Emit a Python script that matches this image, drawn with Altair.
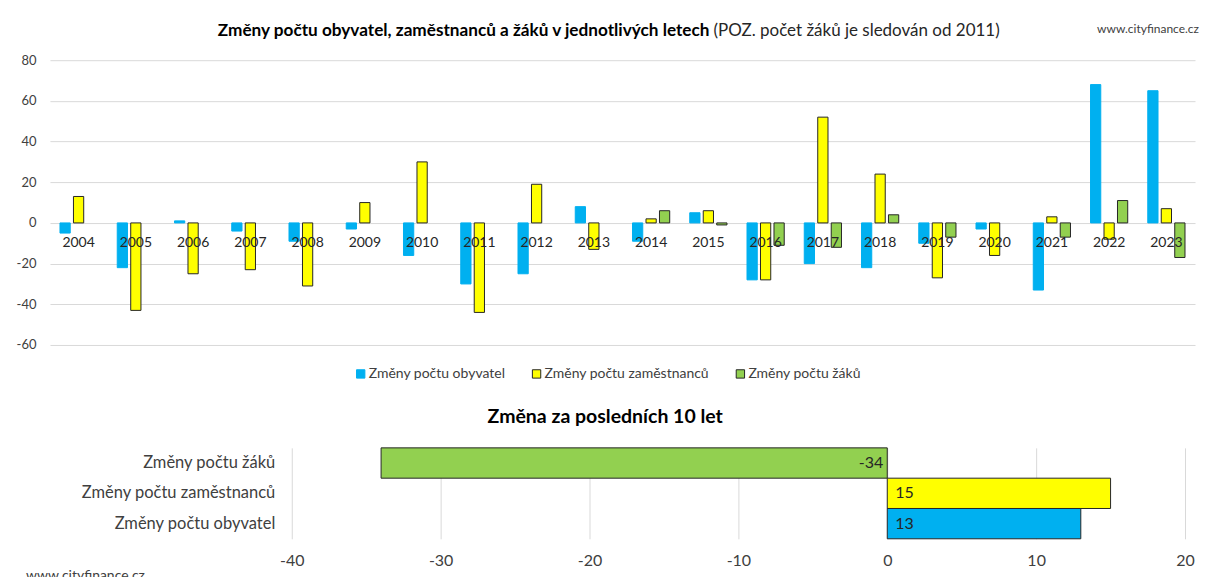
import altair as alt
import pandas as pd

FONT = "Lato"

# ---------------- data ----------------
years = [str(y) for y in range(2004, 2024)]
obyvatel = [-5, -22, 1, -4, -9, -3, -16, -30, -25, 8, -9, 5, -28, -20, -22, -10, -3, -33, 68, 65]
zamestnancu = [13, -43, -25, -23, -31, 10, 30, -44, 19, -13, 2, 6, -28, 52, 24, -27, -16, 3, -8, 7]
zaku = [None, None, None, None, None, None, None, 0, 0, 0, 6, -1, -11, -12, 4, -7, 0, -7, 11, -17]

series = ["Změny počtu obyvatel", "Změny počtu zaměstnanců", "Změny počtu žáků"]
series_fill = ["#00B0F0", "#FFFF00", "#92D050"]
series_stroke = ["#00B0F0", "#262626", "#262626"]

y_ticks = [-60, -40, -20, 0, 20, 40, 60, 80]

ten_year_labels = ["Změny počtu žáků", "Změny počtu zaměstnanců", "Změny počtu obyvatel"]
ten_year_values = [-34, 15, 13]
ten_year_fill = ["#92D050", "#FFFF00", "#00B0F0"]
x_ticks = [-40, -30, -20, -10, 0, 10, 20]

title_bold = "Změny počtu obyvatel, zaměstnanců a žáků v jednotlivých letech"
title_note = "(POZ. počet žáků je sledován od 2011)"
source = "www.cityfinance.cz"
title_bottom = "Změna za posledních 10 let"

rows = []
for i, yr in enumerate(years):
    for s, vals in zip(series, [obyvatel, zamestnancu, zaku]):
        rows.append({"year": yr, "series": s, "value": vals[i]})
df = pd.DataFrame(rows)
df10 = pd.DataFrame({"label": ten_year_labels, "value": ten_year_values})

# ---------------- top chart ----------------
W_TOP, H_TOP = 1146, 285

legend = alt.Legend(title=None, orient="none", legendX=304, legendY=307,
                    direction="horizontal", symbolType="square", symbolSize=70,
                    symbolStrokeWidth=1, labelFontSize=14, labelColor="#404040",
                    labelLimit=400, columnPadding=24, labelOffset=1, padding=0)

bars = alt.Chart(df).transform_filter(
    "isValid(datum.value) && datum.value != 0"
).mark_bar(strokeWidth=1).encode(
    x=alt.X("year:N", sort=years, axis=None,
            scale=alt.Scale(domain=years, paddingInner=0.35, paddingOuter=0.175)),
    xOffset=alt.XOffset("series:N",
                        scale=alt.Scale(domain=series, paddingInner=0.24, paddingOuter=0)),
    y=alt.Y("value:Q", title=None,
            scale=alt.Scale(domain=[-60, 80], nice=False, zero=False),
            axis=alt.Axis(values=y_ticks, grid=True, gridColor="#d9d9d9", gridWidth=1,
                          domain=False, ticks=False, tickSize=0, labelPadding=14,
                          labelFontSize=13, labelColor="#404040", labelFlush=False,
                          minExtent=42, maxExtent=42)),
    fill=alt.Fill("series:N", scale=alt.Scale(domain=series, range=series_fill), legend=legend),
    stroke=alt.Stroke("series:N", scale=alt.Scale(domain=series, range=series_stroke), legend=legend),
)

year_text = alt.Chart(pd.DataFrame({"year": years})).mark_text(
    dy=20, fontSize=14, color="#262626", baseline="middle"
).encode(
    x=alt.X("year:N", sort=years, axis=None),
    y=alt.datum(0),
    text="year:N",
)

head_bold = alt.Chart(pd.DataFrame({"t": [title_bold]})).mark_text(
    align="left", baseline="middle", fontSize=17.2, fontWeight="bold", color="#000000"
).encode(x=alt.value(168), y=alt.value(-29), text="t:N")

note = alt.Chart(pd.DataFrame({"t": [title_note]})).mark_text(
    align="left", baseline="middle", fontSize=17, color="#262626"
).encode(x=alt.value(664), y=alt.value(-29), text="t:N")

src_top = alt.Chart(pd.DataFrame({"t": [source]})).mark_text(
    align="left", baseline="middle", fontSize=12, color="#404040"
).encode(x=alt.value(1048), y=alt.value(-31), text="t:N")

top = alt.layer(bars, year_text, head_bold, note, src_top).properties(
    width=W_TOP, height=H_TOP,
)

# ---------------- bottom chart ----------------
W_B, H_B = 894, 91

ybot = alt.Y("label:N", sort=ten_year_labels, title=None,
             scale=alt.Scale(domain=ten_year_labels, paddingInner=0, paddingOuter=0),
             axis=alt.Axis(domain=False, ticks=False, tickSize=0, labelPadding=17,
                           labelFontSize=16.5, labelColor="#404040", labelLimit=400,
                           minExtent=225, maxExtent=225, grid=False))
xbot = alt.X("value:Q", title=None,
             scale=alt.Scale(domain=[-40, 20], nice=False),
             axis=alt.Axis(values=x_ticks, grid=True, gridColor="#d9d9d9", domain=False,
                           ticks=False, tickSize=0, labelPadding=14, labelFontSize=16,
                           labelColor="#404040", labelFlush=False))

bbars = alt.Chart(df10).mark_bar(stroke="#262626", strokeWidth=1).encode(
    y=ybot, x=xbot,
    fill=alt.Fill("label:N", scale=alt.Scale(domain=ten_year_labels, range=ten_year_fill), legend=None),
)
neg_lbl = alt.Chart(df10).transform_filter("datum.value < 0").mark_text(
    align="right", dx=-4, fontSize=16, color="#262626", baseline="middle"
).encode(y=alt.Y("label:N", sort=ten_year_labels), x=alt.datum(0), text="value:Q")
pos_lbl = alt.Chart(df10).transform_filter("datum.value >= 0").mark_text(
    align="left", dx=8, fontSize=16, color="#262626", baseline="middle"
).encode(y=alt.Y("label:N", sort=ten_year_labels), x=alt.datum(0), text="value:Q")

bottom = alt.layer(bbars, neg_lbl, pos_lbl).properties(
    width=W_B, height=H_B,
    title=alt.TitleParams(title_bottom, anchor="start", frame="group", dx=196,
                          fontSize=19.5, fontWeight="bold", offset=20, color="#000000"),
)

spacer = alt.Chart(pd.DataFrame({"a": [0]})).mark_point(opacity=0).encode(
    x=alt.value(0), y=alt.value(0)
).properties(width=17, height=H_B)

bottom_row = alt.hconcat(spacer, bottom, spacing=0).resolve_scale(fill="independent")

chart = alt.vconcat(top, bottom_row, spacing=26).resolve_scale(
    fill="independent", stroke="independent"
).properties(
    title=alt.TitleParams(source, orient="bottom", anchor="start", dx=18, fontSize=14,
                          fontWeight="normal", color="#404040", offset=0),
    padding={"left": 0, "top": 14, "right": 0, "bottom": 0},
).configure(
    font=FONT,
    locale={"number": {"decimal": ".", "thousands": ",", "grouping": [3],
                       "currency": ["$", ""], "minus": "-"}},
).configure_view(stroke=None)

chart.save("out.html", embed_options={"renderer": "svg", "actions": False})
